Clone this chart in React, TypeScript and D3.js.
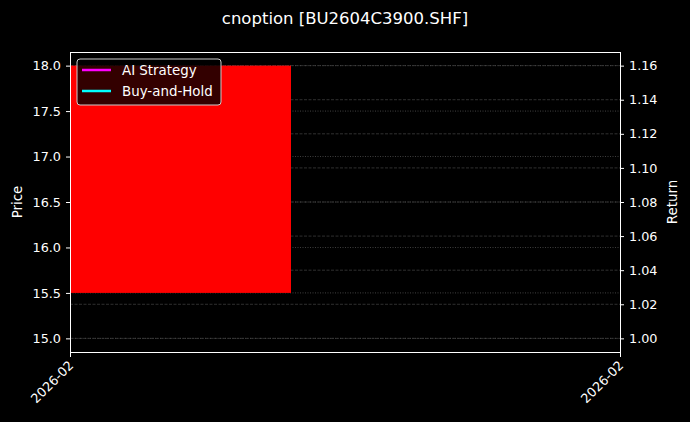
import React, { useEffect, useRef } from "react";
import * as d3 from "d3";

const title = "cnoption [BU2604C3900.SHF]";
const dates = ["2026-02"];
const opens = [18.0];
const closes = [15.5];
const highs = [18.0];
const lows = [15.0];
const returnExtent = [1.0, 1.16];
const priceTicks = [15.0, 15.5, 16.0, 16.5, 17.0, 17.5, 18.0];
const returnTicks = [1.0, 1.02, 1.04, 1.06, 1.08, 1.1, 1.12, 1.14, 1.16];
const xTickLabels = ["2026-02", "2026-02"];
const legendItems = [
  { label: "AI Strategy", color: "#ff00ff" },
  { label: "Buy-and-Hold", color: "#00ffff" },
];

const W = 690;
const H = 422;
const M = { left: 70, right: 620, top: 52, bottom: 352 };
const FONT = "DejaVu Sans, sans-serif";
const TICK = 12.8;

export default function App() {
  const ref = useRef<SVGSVGElement>(null);
  useEffect(() => {
    document.body.style.margin = "0";
    document.body.style.background = "#000";
    const svg = d3.select(ref.current);
    svg.selectAll("*").remove();

    svg.append("rect").attr("width", W).attr("height", H).attr("fill", "#000");

    const pMin = d3.min(lows)!;
    const pMax = d3.max(highs)!;
    const pPad = (pMax - pMin) * 0.05;
    const y = d3.scaleLinear().domain([pMin - pPad, pMax + pPad]).range([M.bottom, M.top]);
    const rPad = (returnExtent[1] - returnExtent[0]) * 0.05;
    const yR = d3.scaleLinear().domain([returnExtent[0] - rPad, returnExtent[1] + rPad]).range([M.bottom, M.top]);
    const candleW = 0.8;
    const x = d3.scaleLinear().domain([-candleW / 2, 1.6]).range([M.left, M.right]);

    // grids
    const g = svg.append("g");
    g.selectAll("line.gl").data(priceTicks).join("line")
      .attr("x1", M.left).attr("x2", M.right)
      .attr("y1", (d) => y(d)).attr("y2", (d) => y(d))
      .attr("stroke", "#666").attr("stroke-width", 0.8).attr("stroke-dasharray", "1,1.5").attr("opacity", 0.8);
    g.selectAll("line.gr").data(returnTicks).join("line")
      .attr("x1", M.left).attr("x2", M.right)
      .attr("y1", (d) => yR(d)).attr("y2", (d) => yR(d))
      .attr("stroke", "#444").attr("stroke-width", 0.8).attr("stroke-dasharray", "3,1.5").attr("opacity", 0.9);

    // candles
    svg.selectAll("rect.c").data(dates).join("rect")
      .attr("x", (_, i) => x(i - candleW / 2))
      .attr("width", x(candleW) - x(0) + 1)
      .attr("y", (_, i) => y(Math.max(opens[i], closes[i])))
      .attr("height", (_, i) => Math.abs(y(opens[i]) - y(closes[i])))
      .attr("fill", (_, i) => (closes[i] >= opens[i] ? "#00ff00" : "#ff0000"));

    // spines
    svg.append("rect").attr("x", M.left + 0.5).attr("y", M.top + 0.5)
      .attr("width", M.right - M.left).attr("height", M.bottom - M.top)
      .attr("fill", "none").attr("stroke", "#fff").attr("stroke-width", 1)
      .attr("shape-rendering", "crispEdges");

    // left axis
    const la = svg.append("g").attr("transform", `translate(${M.left},0)`)
      .call(d3.axisLeft(y).tickValues(priceTicks).tickFormat(d3.format(".1f")).tickSize(4).tickPadding(5));
    la.select(".domain").remove();
    la.selectAll("line").attr("stroke", "#fff");
    la.selectAll("text").attr("fill", "#fff").attr("font-size", TICK).attr("font-family", FONT);

    const ra = svg.append("g").attr("transform", `translate(${M.right},0)`)
      .call(d3.axisRight(yR).tickValues(returnTicks).tickFormat(d3.format(".2f")).tickSize(4).tickPadding(5));
    ra.select(".domain").remove();
    ra.selectAll("line").attr("stroke", "#fff");
    ra.selectAll("text").attr("fill", "#fff").attr("font-size", TICK).attr("font-family", FONT);

    // x axis
    const xt = [x.domain()[0], x.domain()[1]];
    const xa = svg.append("g").attr("transform", `translate(0,${M.bottom})`);
    xt.forEach((v, i) => {
      xa.append("line").attr("x1", x(v) + 0.5).attr("x2", x(v) + 0.5).attr("y1", 0).attr("y2", 5).attr("stroke", "#fff");
      xa.append("text")
        .attr("transform", `translate(${x(v) + 1},${11}) rotate(-45)`)
        .attr("text-anchor", "end").attr("dy", "0.35em")
        .attr("fill", "#fff").attr("font-size", TICK).attr("font-family", FONT)
        .text(xTickLabels[i]);
    });

    // labels
    svg.append("text").attr("x", W / 2).attr("y", 24).attr("text-anchor", "middle")
      .attr("fill", "#fff").attr("font-size", 16.5).attr("font-family", FONT).text(title);
    svg.append("text").attr("transform", `translate(22,${(M.top + M.bottom) / 2}) rotate(-90)`)
      .attr("text-anchor", "middle").attr("fill", "#fff").attr("font-size", 13.4).attr("font-family", FONT).text("Price");
    svg.append("text").attr("transform", `translate(677,${(M.top + M.bottom) / 2}) rotate(-90)`)
      .attr("text-anchor", "middle").attr("fill", "#fff").attr("font-size", 13.4).attr("font-family", FONT).text("Return");

    // legend
    const lg = svg.append("g").attr("transform", `translate(77,59)`);
    lg.append("rect").attr("width", 144).attr("height", 46).attr("rx", 3)
      .attr("fill", "#000").attr("fill-opacity", 0.8).attr("stroke", "#ccc").attr("stroke-width", 1);
    legendItems.forEach((it, i) => {
      const yy = 11 + i * 21;
      lg.append("line").attr("x1", 5).attr("x2", 34).attr("y1", yy).attr("y2", yy)
        .attr("stroke", it.color).attr("stroke-width", 2.5);
      lg.append("text").attr("x", 45).attr("y", yy).attr("dy", "0.35em")
        .attr("fill", "#fff").attr("font-size", 13.4).attr("font-family", FONT).text(it.label);
    });
  }, []);
  return <svg ref={ref} width={W} height={H} style={{ display: "block" }} />;
}
